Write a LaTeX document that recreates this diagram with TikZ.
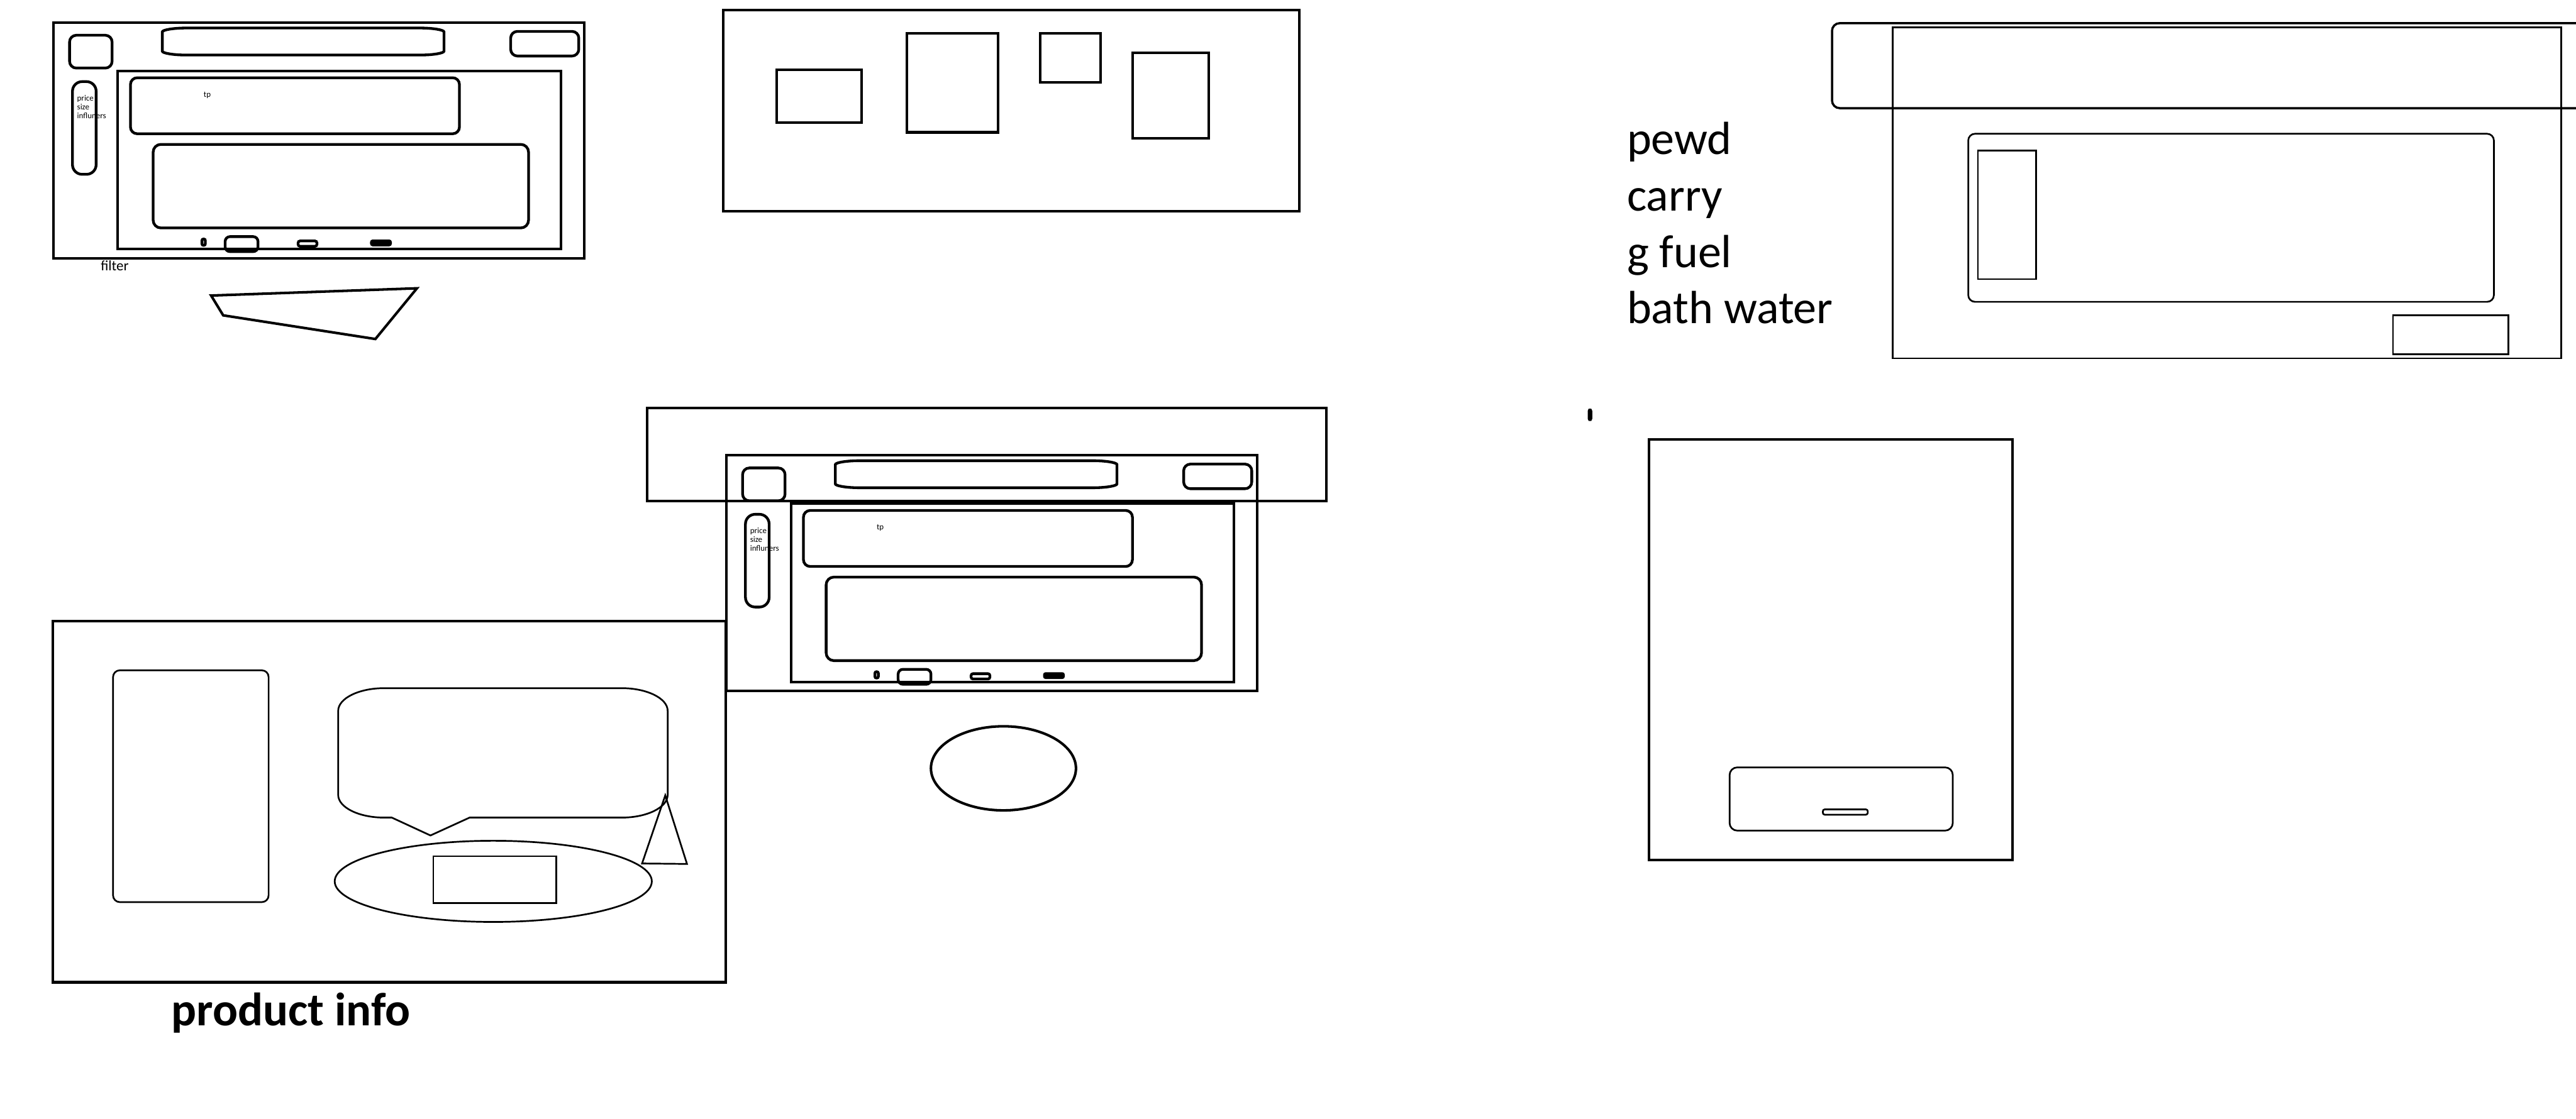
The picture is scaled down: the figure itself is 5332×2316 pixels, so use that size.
\documentclass[tikz,border=0pt]{standalone}
\usepackage{fontspec}
\setmainfont{Carlito}
\tikzset{
  frm/.style={draw, line width=1.5pt},
  part/.style={draw, line width=1.6pt, rounded corners=0.14cm},
  thn/.style={draw, line width=1pt},
  smalltxt/.style={font=\fontsize{4.8}{5.1}\selectfont, inner sep=0pt, anchor=base west},
  bigtxt/.style={font=\fontsize{27.4}{33}\selectfont, inner sep=0pt, anchor=base west},
}
% flat barrel-shaped bar: x1 y1 x2 y2
\newcommand{\barrel}[4]{%
  \draw[part, rounded corners=0pt] (#1+50,#2) -- (#3-50,#2)
    .. controls (#3-22,#2) and (#3,#2+4) .. (#3,#2+8) -- (#3,#4-8)
    .. controls (#3,#4-4) and (#3-22,#4) .. (#3-50,#4) -- (#1+50,#4)
    .. controls (#1+22,#4) and (#1,#4-4) .. (#1,#4-8) -- (#1,#2+8)
    .. controls (#1,#2+4) and (#1+22,#2) .. cycle;}
% one shop screen, drawn at the top left position
\newcommand{\shopscreen}{%
  \draw[frm] (111,47) rectangle (1209,535);
  \draw[part] (144,73) rectangle (232,141);
  \barrel{336}{58}{919}{114}
  \draw[part] (1057,65) rectangle (1198,116);
  \draw[frm] (244,147) rectangle (1161,516);
  \draw[part, rounded corners=0.2cm] (150,169) rectangle (199,361);
  \foreach \w [count=\k from 0] in {price, size, influners}
    \node[smalltxt] (filt\k) at (159,209+18*\k) {\w};
  \draw[part] (270,161) rectangle (951,277);
  \node[smalltxt] (tp) at (421,201) {tp};
  \draw[part, rounded corners=0.16cm] (317,299) rectangle (1094,472);
  \draw[part, rounded corners=0.03cm] (418,495) rectangle (425,508);
  \draw[part, rounded corners=0.1cm] (466,490) rectangle (534,521);
  \draw[part, rounded corners=0.04cm] (617,499) rectangle (656,510);
  \fill[rounded corners=0.05cm] (766,496) rectangle (811,510);}

\begin{document}
\begin{tikzpicture}[x=0.01cm, y=-0.01cm]
  \useasboundingbox (0,0) rectangle (5332,2316);

  % screens
  \begin{scope}[name prefix=a-]
    \shopscreen
  \end{scope}
  \node[font=\fontsize{8.5}{10}\selectfont, inner sep=0pt, anchor=base west] (filter) at (208,561) {filter};
  \draw[frm] (437,612) -- (462,653) -- (777,702) -- (863,597) -- cycle;

  \draw[frm] (1340,845) rectangle (2745,1037);
  \begin{scope}[shift={(1393,896)}, name prefix=b-]
    \shopscreen
  \end{scope}
  \draw[frm] (2077,1591) ellipse [x radius=1.5cm, y radius=0.87cm];

  % gallery
  \draw[frm] (1497,21) rectangle (2690,438);
  \draw[frm] (1608,145) rectangle (1783,254);
  \draw[frm] (1877,69) rectangle (2066,274);
  \draw[frm] (2153,69) rectangle (2278,170);
  \draw[frm] (2345,109) rectangle (2502,286);

  % product info
  \draw[frm] (109,1286) rectangle (1502,2034);
  \draw[thn, rounded corners=0.14cm] (234,1388) rectangle (556,1868);
  \draw[thn] (700,1472) .. controls (700,1446) and (743,1425) .. (795,1425) -- (1287,1425)
    .. controls (1339,1425) and (1382,1446) .. (1382,1472) -- (1382,1646)
    .. controls (1382,1672) and (1339,1693) .. (1287,1693) -- (972,1693) -- (891,1730)
    -- (811,1693) -- (795,1693) .. controls (743,1693) and (700,1672) .. (700,1646) -- cycle;
  \draw[thn] (1021,1825) ellipse [x radius=3.28cm, y radius=0.84cm];
  \draw[thn] (897,1773) rectangle (1151,1870);
  \draw[thn] (1377,1647) -- (1329,1788) -- (1422,1789) -- cycle;
  \node[bigtxt, font=\bfseries\fontsize{27.6}{33}\selectfont] (prodinfo) at (354,2124) {product info};

  % notes
  \foreach \txt [count=\k from 0] in {pewd, carry, g fuel, bath water}
    \node[bigtxt] (note\k) at (3367,320+116.7*\k) {\txt};
  \draw[fill, rounded corners=0.04cm] (3287,847) rectangle (3295,871);

  % detail page
  \draw[line width=1.3pt, rounded corners=0.16cm] (5332,48) -- (3792,48) -- (3792,224) -- (5332,224);
  \draw[line width=1.1pt] (3917,57) rectangle (5301,742);
  \draw[thn, rounded corners=0.14cm] (4074,277) rectangle (5162,625);
  \draw[thn] (4094,312) rectangle (4214,578);
  \draw[thn] (4953,653) rectangle (5192,734);

  % cart
  \draw[frm] (3413,910) rectangle (4166,1781);
  \draw[thn, rounded corners=0.16cm] (3580,1589) rectangle (4042,1720);
  \draw[thn, rounded corners=0.04cm] (3773,1676) rectangle (3866,1687);
\end{tikzpicture}
\end{document}
